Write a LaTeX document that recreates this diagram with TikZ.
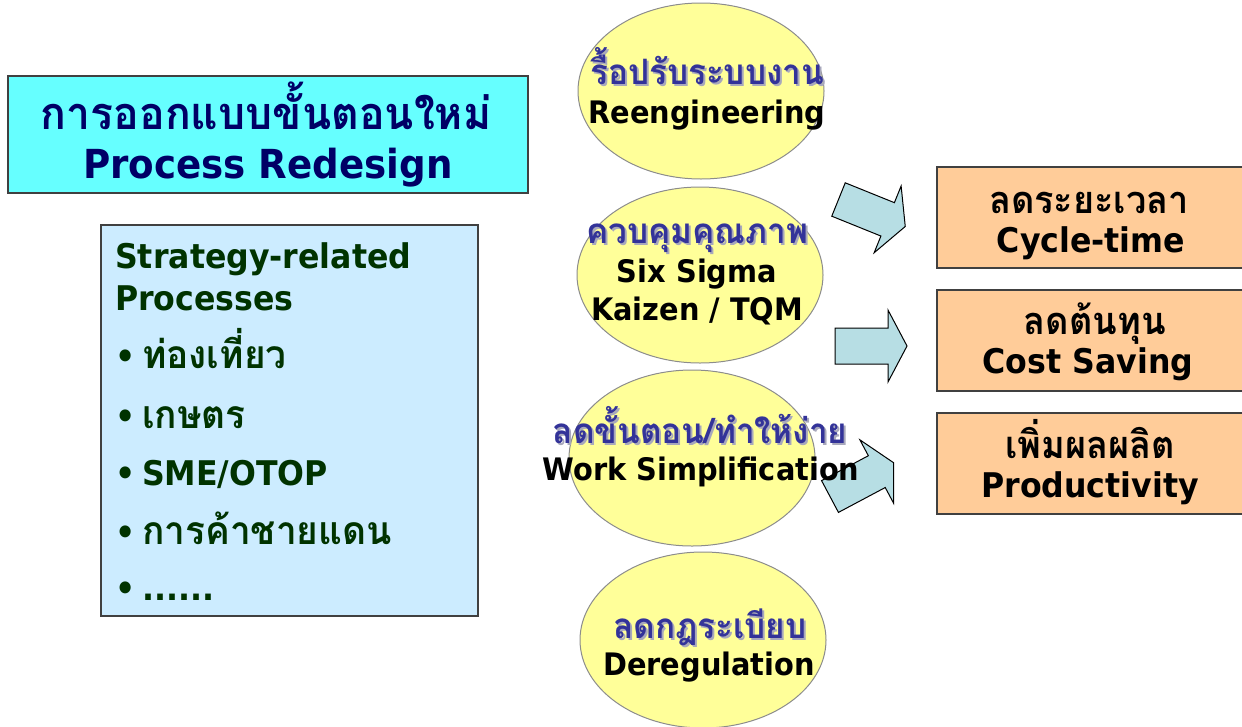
\documentclass[tikz,border=0pt]{standalone}
\usepackage{fontspec}
\setmainfont{DejaVu Sans}[FakeStretch=0.93]
\newfontfamily\thaifont[Script=Thai,FakeStretch=0.95]{Loma}
\usetikzlibrary{shapes.geometric}
\definecolor{titlefill}{HTML}{66FFFF}
\definecolor{navy}{HTML}{000066}
\definecolor{listfill}{HTML}{CCECFF}
\definecolor{dkgreen}{HTML}{003300}
\definecolor{ellfill}{HTML}{FFFF99}
\definecolor{ellline}{HTML}{8C8C8C}
\definecolor{arrfill}{HTML}{B7DEE4}
\definecolor{boxfill}{HTML}{FFCC99}
\definecolor{thblue}{HTML}{333399}
\definecolor{shadowc}{HTML}{A8A8BC}
\definecolor{boxline}{HTML}{404040}
\newcommand\shd[1]{\leavevmode\rlap{\kern2pt\raisebox{-2pt}{\color{shadowc}#1}}#1}
\newcommand\fs[1]{\fontsize{#1}{#1}\selectfont\bfseries}
\begin{document}
\begin{tikzpicture}[x=1pt,y=-1pt,
  panel/.style={draw=boxline,line width=1.3pt,inner sep=0pt},
  ell/.style={ellipse,draw=ellline,line width=1pt,fill=ellfill,inner sep=0pt,minimum width=246pt,minimum height=176pt},
  lbl/.style={anchor=base,inner sep=0pt},
  lft/.style={anchor=base west,inner sep=0pt},
  arrowbody/.style={draw=black,line width=1pt,fill=arrfill,line join=miter},
  pics/blockarrow/.style={code={\draw[arrowbody] (0,-18) -- (53,-18) -- (53,-36) -- (72,0) -- (53,36) -- (53,18) -- (0,18) -- cycle;}}
]
\useasboundingbox (0,0) rectangle (1242,726);

% boxes
\node[panel,fill=titlefill,minimum width=520pt,minimum height=117pt] (title) at (268,134.5) {};
\node[panel,fill=listfill,minimum width=377pt,minimum height=391pt] (list) at (289.5,420.5) {};
\node[panel,fill=boxfill,minimum width=313pt,minimum height=101pt] (r1) at (1093.5,217.5) {};
\node[panel,fill=boxfill,minimum width=313pt,minimum height=101pt] (r2) at (1093.5,340.5) {};
\node[panel,fill=boxfill,minimum width=313pt,minimum height=101pt] (r3) at (1093.5,463.5) {};

% ellipses
\node[ell] (e1) at (701,91) {};
\node[ell] (e2) at (700,275) {};
\node[ell] (e3) at (692,458) {};
\node[ell] (e4) at (703,640) {};

% block arrows
\pic[rotate=-22] (a1) at (838.5,199.5) {blockarrow};
\pic (a2) at (835,346) {blockarrow};
\pic[rotate=28] (a3) at (830,496.5) {blockarrow};

% title text
\node[lbl,text=navy,font=\thaifont\fs{45}] (tt1) at (266,129) {การออกแบบขั้นตอนใหม่};
\node[lbl,text=navy,font=\fs{40}] (tt2) at (268,178) {Process Redesign};

% list text
\begin{scope}[every node/.style={lft,text=dkgreen}]
\node[font=\fs{34}] (l1) at (115,268) {Strategy-related};
\node[font=\fs{34}] (l2) at (115,310) {Processes};
\node[font=\fs{34}] (b1) at (115,368) {\makebox[27pt][l]{•}{\thaifont\fs{39}ท่องเที่ยว}};
\node[font=\fs{34}] (b2) at (115,428) {\makebox[27pt][l]{•}{\thaifont\fs{39}เกษตร}};
\node[font=\fs{34}] (b3) at (115,485) {\makebox[27pt][l]{•}SME/OTOP};
\node[font=\fs{34}] (b4) at (115,544) {\makebox[27pt][l]{•}{\thaifont\fs{39}การค้าชายแดน}};
\node[font=\fs{34}] (b5) at (115,600) {\makebox[27pt][l]{•}......};
\end{scope}

% ellipse text
\node[lbl,text=thblue,font=\thaifont\fs{35}] (e1a) at (707,84) {\shd{รื้อปรับระบบงาน}};
\node[lbl,font=\fs{31}] (e1b) at (707,123) {Reengineering};
\node[lbl,text=thblue,font=\thaifont\fs{35}] (e2a) at (697,243) {\shd{ควบคุมคุณภาพ}};
\node[lbl,font=\fs{31}] (e2b) at (697,282) {Six Sigma};
\node[lbl,font=\fs{31}] (e2c) at (697,320) {Kaizen / TQM};
\node[lbl,text=thblue,font=\thaifont\fs{35}] (e3a) at (700,443) {\shd{ลดขั้นตอน/ทำให้ง่าย}};
\node[lbl,font=\fs{31}] (e3b) at (701,480) {Work Simplification};
\node[lbl,text=thblue,font=\thaifont\fs{35}] (e4a) at (710,638) {\shd{ลดกฎระเบียบ}};
\node[lbl,font=\fs{31}] (e4b) at (709,675) {Deregulation};

% result text
\node[lbl,font=\thaifont\fs{38}] (r1a) at (1089,213) {ลดระยะเวลา};
\node[lbl,font=\fs{34}] (r1b) at (1091,252) {Cycle-time};
\node[lbl,font=\thaifont\fs{38}] (r2a) at (1095,334) {ลดต้นทุน};
\node[lbl,font=\fs{34}] (r2b) at (1088,373) {Cost Saving};
\node[lbl,font=\thaifont\fs{38}] (r3a) at (1090,458) {เพิ่มผลผลิต};
\node[lbl,font=\fs{34}] (r3b) at (1090,497) {Productivity};
\end{tikzpicture}
\end{document}
